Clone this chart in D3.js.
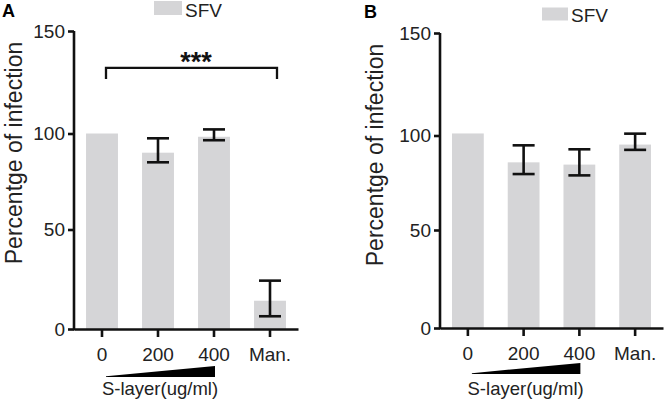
<!DOCTYPE html>
<html>
<head>
<meta charset="utf-8">
<script src="https://cdn.jsdelivr.net/npm/d3@7/dist/d3.min.js"></script>
<style>
  html, body { margin: 0; padding: 0; background: #fff; }
  svg { display: block; }
  text { font-family: "Liberation Sans", Arial, sans-serif; }
</style>
</head>
<body>
<svg id="chart" width="666" height="403"></svg>
<script>
// ---- data ----
const categories = ["0", "200", "400", "Man."];
const valuesA  = [100, 90, 98.3, 14.2];
const errHighA = [null, 97.5, 102, 24.3];
const errLowA  = [null, 85, 96.5, 6.4];
const valuesB  = [101, 85.8, 84.6, 95.2];
const errHighB = [null, 94.8, 92.7, 100.9];
const errLowB  = [null, 79.6, 78.9, 92.4];
const yTicks = [0, 50, 100, 150];
const seriesName = "SFV";
const xTitle = "S-layer(ug/ml)";
const yTitle = "Percentge of infection";
const panelLabels = ["A", "B"];
const sigLabel = "***";
const sigLevel = 132;   // bracket level (y units) in panel A

const barColor = "#d5d5d7";
const ink = "#111";

const svg = d3.select("#chart");

function drawPanel(cfg) {
  const g = svg.append("g");
  const x = d3.scaleBand().domain(categories)
    .range([cfg.left, cfg.right]).paddingInner(0.43).paddingOuter(0.215);
  const y = d3.scaleLinear().domain(yTicks).range(cfg.yRange);
  const bw = x.bandwidth();
  const cx = c => x(c) + bw / 2;

  // bars
  g.selectAll("rect.bar").data(categories).join("rect")
    .attr("class", "bar")
    .attr("x", c => x(c)).attr("width", bw)
    .attr("y", (c, i) => y(cfg.values[i]))
    .attr("height", (c, i) => y(0) - y(cfg.values[i]))
    .attr("fill", barColor);

  // error bars
  const capW = 22;
  const eb = categories.map((c, i) => ({c, hi: cfg.errHigh[i], lo: cfg.errLow[i]})).filter(d => d.hi != null);
  const ebg = g.selectAll("g.err").data(eb).join("g").attr("class", "err")
    .attr("stroke", ink).attr("stroke-width", 2.6).attr("fill", "none");
  ebg.append("line").attr("x1", d => cx(d.c)).attr("x2", d => cx(d.c))
    .attr("y1", d => y(d.hi)).attr("y2", d => y(d.lo));
  ebg.append("line").attr("x1", d => cx(d.c) - capW / 2).attr("x2", d => cx(d.c) + capW / 2)
    .attr("y1", d => y(d.hi)).attr("y2", d => y(d.hi));
  ebg.append("line").attr("x1", d => cx(d.c) - capW / 2).attr("x2", d => cx(d.c) + capW / 2)
    .attr("y1", d => y(d.lo)).attr("y2", d => y(d.lo));

  // axes
  const yAxis = g.append("g").attr("transform", `translate(${cfg.left},0)`)
    .call(d3.axisLeft(y).tickValues(yTicks).tickSize(6).tickSizeOuter(0).tickPadding(3));
  const xAxis = g.append("g").attr("transform", `translate(0,${y(0)})`)
    .call(d3.axisBottom(x).tickSize(8).tickSizeOuter(0).tickPadding(11));
  [yAxis, xAxis].forEach(a => {
    a.selectAll("path.domain").attr("stroke", ink).attr("stroke-width", 2.6);
    a.selectAll(".tick line").attr("stroke", ink).attr("stroke-width", 2.6);
    a.selectAll(".tick text").attr("fill", "#222").style("font-size", "19px")
      .style("font-family", '"Liberation Sans", Arial, sans-serif');
  });
  // extend y axis down to cover x axis join
  yAxis.select("path.domain").attr("d", `M0,${y(150)}V${y(0) + 1.3}`);

  // y title
  g.append("text")
    .attr("transform", `translate(${cfg.yTitleX},${cfg.yTitleY}) rotate(-90)`)
    .attr("text-anchor", "middle").attr("fill", "#222")
    .style("font-size", "23px").text(yTitle);

  // wedge
  const x0 = cx(categories[0]) + 4, x1 = cx(categories[2]) + 1;
  const wb = cfg.wedgeY;
  g.append("path")
    .attr("d", d3.line()([[x0, wb - 0.8], [x1, wb - 11], [x1, wb], [x0, wb]]) + "Z")
    .attr("fill", "#000");
  g.append("text").attr("x", (x0 + x1) / 2 - 0.5).attr("y", 394.5)
    .attr("text-anchor", "middle").attr("fill", "#222")
    .style("font-size", "18.5px").text(xTitle);

  // legend
  g.append("rect").attr("x", cfg.legX).attr("y", cfg.legY)
    .attr("width", cfg.legW).attr("height", cfg.legH).attr("fill", barColor);
  g.append("text").attr("x", cfg.legX + cfg.legW + 3).attr("y", cfg.legY + cfg.legH + 1.5)
    .attr("fill", "#222").style("font-size", "19px").text(seriesName);

  // panel label
  g.append("text").attr("x", cfg.labX).attr("y", cfg.labY)
    .attr("fill", "#000").style("font-size", "18px").style("font-weight", "bold")
    .text(cfg.label);

  return {x, y, cx, g};
}

const pA = drawPanel({
  left: 74, right: 298, yRange: [329, 229.5, 133.5, 31],
  values: valuesA, errHigh: errHighA, errLow: errLowA,
  yTitleX: 22, yTitleY: 153, wedgeY: 377,
  legX: 154, legY: 1, legW: 28, legH: 14,
  labX: 2, labY: 17, label: panelLabels[0]
});
const pB = drawPanel({
  left: 440, right: 663, yRange: [328, 230, 135.5, 33],
  values: valuesB, errHigh: errHighB, errLow: errLowB,
  yTitleX: 383, yTitleY: 155, wedgeY: 374,
  legX: 542, legY: 7.5, legW: 26, legH: 13,
  labX: 364, labY: 18, label: panelLabels[1]
});

// significance bracket in panel A
{
  const {cx, y, g} = pA;
  const bx0 = cx(categories[0]) + 4, bx1 = cx(categories[3]) + 7;
  const by = y(sigLevel);
  g.append("path")
    .attr("d", `M${bx0},${by + 11}V${by}H${bx1}V${by + 11}`)
    .attr("fill", "none").attr("stroke", ink).attr("stroke-width", 2.3);
  g.append("text").attr("x", (bx0 + bx1) / 2 + 4.5).attr("y", by + 3)
    .attr("text-anchor", "middle").attr("fill", "#111")
    .style("font-size", "27px").style("font-weight", "bold").text(sigLabel);
}
</script>
</body>
</html>
